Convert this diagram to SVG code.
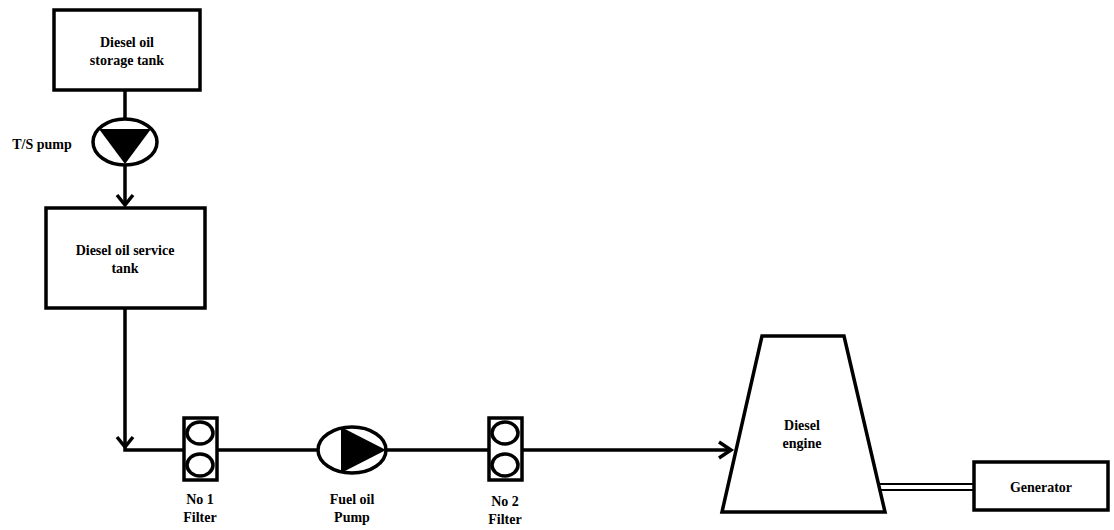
<svg xmlns="http://www.w3.org/2000/svg" width="1114" height="530" viewBox="0 0 1114 530">
<style>
.s{fill:#fff;stroke:#000;stroke-width:3.5}
.l{fill:none;stroke:#000;stroke-width:3.5}
.a{fill:none;stroke:#000;stroke-width:3.5}
text{font-family:"Liberation Serif",serif;font-weight:bold;font-size:14px;text-anchor:middle}
</style>
<rect width="1114" height="530" fill="#fff"/>
<g id="connectors">
<path class="l" d="M125,90V205"/>
<path class="a" d="M117,195L125,205L133,195"/>
<path class="l" d="M125,308V450H731"/>
<path class="a" d="M117,437L125,447L133,437"/>
<path class="a" d="M719,442L731,450L719,458"/>
<path fill="none" stroke="#000" stroke-width="2" d="M880,484H974M880,490H974"/>
</g>
<g id="storage"><rect class="s" x="54" y="10" width="146" height="80"/><text x="127" y="47">Diesel oil</text><text x="127" y="65">storage tank</text></g>
<g id="ts-pump"><ellipse class="s" cx="125" cy="142" rx="32" ry="23"/><polygon points="99,129 151,129 125,164" fill="#000"/><text x="42" y="149">T/S pump</text></g>
<g id="service"><rect class="s" x="46" y="208" width="159" height="100"/><text x="125" y="255">Diesel oil service</text><text x="125" y="273">tank</text></g>
<g id="filter1"><rect class="s" x="184" y="418" width="33" height="62"/><ellipse class="s" cx="200" cy="433" rx="13" ry="11" stroke-width="3"/><ellipse class="s" cx="200" cy="465" rx="13" ry="11" stroke-width="3"/><text x="200" y="504">No 1</text><text x="200" y="522">Filter</text></g>
<g id="fuelpump"><ellipse class="s" cx="352" cy="450" rx="34" ry="23"/><polygon points="341,427 386,450 341,473" fill="#000"/><text x="352" y="504">Fuel oil</text><text x="352" y="522">Pump</text></g>
<g id="filter2"><rect class="s" x="489" y="418" width="33" height="62"/><ellipse class="s" cx="505" cy="433" rx="13" ry="11" stroke-width="3"/><ellipse class="s" cx="505" cy="465" rx="13" ry="11" stroke-width="3"/><text x="505" y="506">No 2</text><text x="505" y="524">Filter</text></g>
<g id="engine"><polygon class="s" points="762,336 844,336 885,512 722,512"/><text x="802" y="430">Diesel</text><text x="802" y="448">engine</text></g>
<g id="generator"><rect class="s" x="974" y="462" width="134" height="48"/><text x="1041" y="492">Generator</text></g>
</svg>
